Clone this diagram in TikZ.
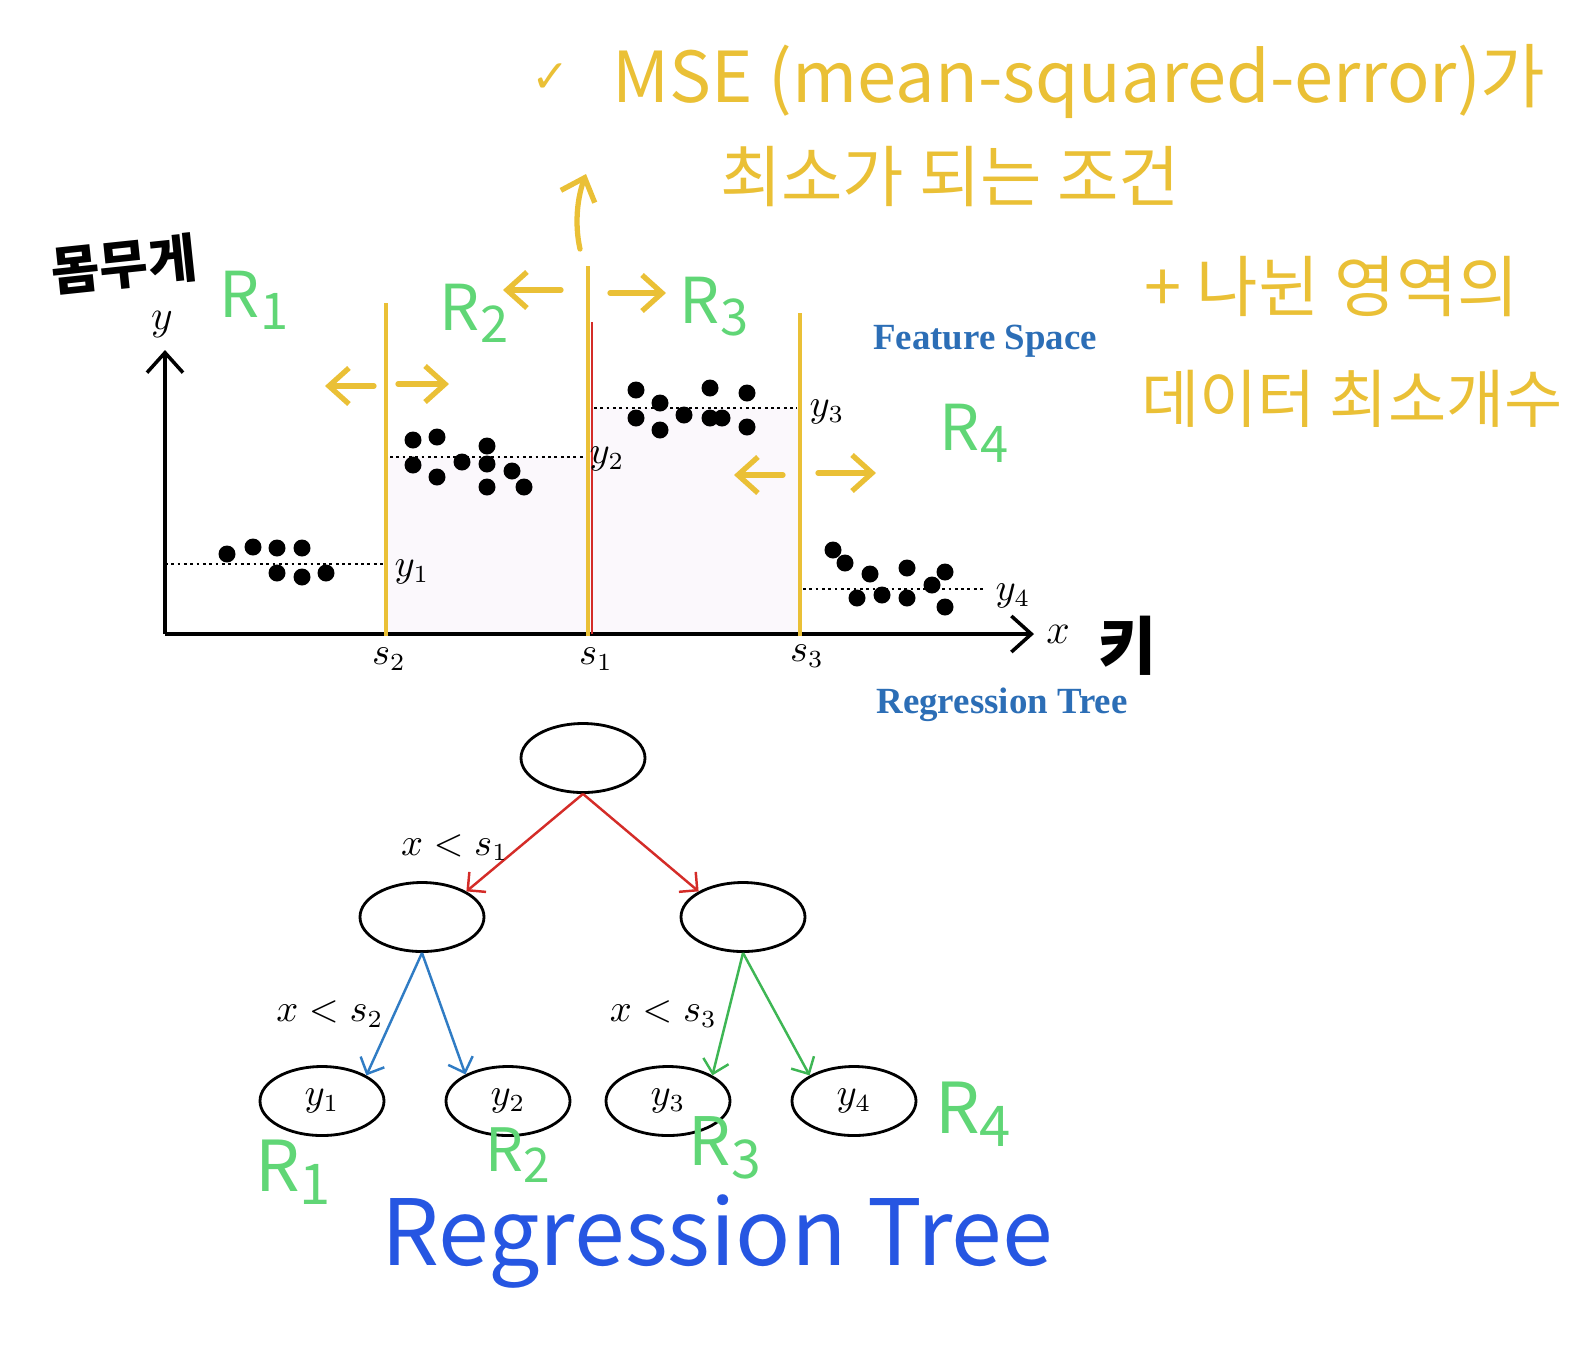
\documentclass[tikz,border=0pt]{standalone}
\usepackage{fontspec}
\setmainfont{Liberation Serif}
\newfontfamily\handfont{Noto Sans CJK KR}
\newfontfamily\symfont{DejaVu Sans}
\usetikzlibrary{arrows.meta,shapes.geometric}

\definecolor{penyellow}{RGB}{234,192,54}
\definecolor{pengreen}{RGB}{96,214,118}
\definecolor{penblue}{RGB}{38,86,226}
\definecolor{printblue}{RGB}{44,110,182}
\definecolor{cutred}{RGB}{212,44,40}
\definecolor{cutblue}{RGB}{48,124,196}
\definecolor{cutgreen}{RGB}{62,182,84}
\definecolor{regionfill}{RGB}{251,248,252}

\newcommand{\regionname}[1]{R\raisebox{-0.35ex}{\scalebox{0.8}{#1}}}

\begin{document}
\begin{tikzpicture}[x=0.1mm,y=-0.1mm]
\tikzstyle{split}=[ellipse,thick,draw=black,fill=white,minimum width=12.4mm,minimum height=6.9mm,inner sep=0pt]
\tikzstyle{branch}=[line width=0.7pt,-{Straight Barb[length=1.3mm,width=2.6mm]}]
\tikzstyle{cut}=[penyellow,line width=1.2pt]
\tikzstyle{mean}=[black,densely dotted,line width=0.8pt]
\tikzstyle{lbl}=[text=black,font=\fontsize{10.5}{12}\selectfont,inner sep=1pt]
\tikzstyle{pen}=[penyellow,line width=1.5pt,line cap=round,line join=round,-{Straight Barb[length=2mm,width=3.6mm]}]
\tikzstyle{hand}=[penyellow,font=\handfont\fontsize{19}{22}\selectfont,inner sep=0pt]
\tikzstyle{region}=[pengreen,font=\handfont\fontsize{18}{20}\selectfont,inner sep=0pt]

\useasboundingbox (0,0) rectangle (1594,1360);

% Feature space
\coordinate (O) at (165,634);
\coordinate (ytip) at (165,350);
\coordinate (xtip) at (1034,634);
\fill[regionfill] (386,457) rectangle (590,634);
\fill[regionfill] (590,408) rectangle (800,634);
\draw[line width=1pt,-{Straight Barb[length=2mm,width=3.6mm]}] (O) -- (ytip);
\draw[line width=1pt,-{Straight Barb[length=2mm,width=3.6mm]}] (O) -- (xtip);
\node[lbl,font=\fontsize{12}{14}\selectfont] (ylbl) at (162,325) {$y$};
\node[lbl,font=\fontsize{12}{14}\selectfont] (xlbl) at (1058,634) {$x$};

%mean lines
\draw[mean] (165,564) -- (383,564);
\draw[mean] (390,457) -- (585,457);
\draw[mean] (594,408) -- (797,408);
\draw[mean] (803,589) -- (983,589);

%data points
\foreach \p in {(227,554),(253,547),(277,548),(302,548),(277,573),(302,577),(326,573)} \fill \p circle (0.85mm);
\foreach \p in {(413,440),(437,437),(487,446),(413,465),(462,462),(487,464),(437,477),(487,487),(512,471),(524,487)} \fill \p circle (0.85mm);
\foreach \p in {(636,390),(710,388),(747,393),(636,418),(660,403),(660,430),(684,415),(710,418),(722,418),(747,427)} \fill \p circle (0.85mm);
\foreach \p in {(833,550),(845,563),(870,574),(907,568),(945,572),(932,585),(857,598),(882,595),(907,598),(945,607)} \fill \p circle (0.85mm);

%splits
\coordinate (s2) at (386,636);
\coordinate (s1) at (588,636);
\coordinate (s3) at (800,636);
\draw[cutred,line width=0.7pt] (592,322) -- (592,634);
\draw[cut] (s2) -- (386,303);
\draw[cut] (s1) -- (588,266);
\draw[cut] (s3) -- (800,313);
\node[lbl] (s2lbl) at (389,659) {$s_2$};
\node[lbl] (s1lbl) at (596,659) {$s_1$};
\node[lbl] (s3lbl) at (807,656) {$s_3$};
\node[lbl] (y1lbl) at (412,572) {$y_1$};
\node[lbl] (y2lbl) at (607,459) {$y_2$};
\node[lbl] (y3lbl) at (827,412) {$y_3$};
\node[lbl] (y4lbl) at (1013,596) {$y_4$};

\node[printblue,font=\bfseries\fontsize{10.5}{12}\selectfont] (fspace) at (985,341) {Feature Space};
\node[printblue,font=\bfseries\fontsize{10.5}{12}\selectfont] (rtree) at (1002,705) {Regression Tree};

% Tree
\node[split] (root) at (583,758) {};
\node[split] (nl) at (422,917) {};
\node[split] (nr) at (743,917) {};
\node[split,lbl,inner sep=0pt] (leaf1) at (322,1101) {$y_1$};
\node[split,lbl,inner sep=0pt] (leaf2) at (508,1101) {$y_2$};
\node[split,lbl,inner sep=0pt] (leaf3) at (668,1101) {$y_3$};
\node[split,lbl,inner sep=0pt] (leaf4) at (854,1101) {$y_4$};

\path[branch,cutred] (root.south) edge node[lbl,pos=0.55,left=0.6mm] {$x<s_1$} (nl.30);
\path[branch,cutred] (root.south) edge (nr.150);
\path[branch,cutblue] (nl.south) edge node[lbl,midway,left=0.6mm] {$x<s_2$} (leaf1.30);
\path[branch,cutblue] (nl.south) edge (leaf2.148);
\path[branch,cutgreen] (nr.south) edge node[lbl,midway,left=0.6mm] {$x<s_3$} (leaf3.30);
\path[branch,cutgreen] (nr.south) edge (leaf4.150);

%handwriting
\node[black,font=\handfont\bfseries\fontsize{15}{18}\selectfont,rotate=6,inner sep=0pt] (weight) at (124,264) {몸무게};
\node[black,font=\handfont\bfseries\fontsize{18}{20}\selectfont] (height) at (1128,646) {키};

\draw[pen] (374,386) -- (325,386);
\draw[pen] (398,384) -- (449,384);
\draw[pen] (561,290) -- (503,290);
\draw[pen] (610,293) -- (666,293);
\draw[pen] (783,475) -- (734,475);
\draw[pen] (818,473) -- (876,473);
\draw[pen] (580,249) .. controls (574,222) and (578,196) .. (586,174);

\node[penyellow,font=\symfont\fontsize{13}{15}\selectfont] (check) at (551,78) {✓};
\node[hand,font=\handfont\fontsize{20}{24}\selectfont,anchor=base west] (mse) at (612,102) {MSE (mean-squared-error)가};
\node[hand] (cond1) at (950,177) {최소가 되는 조건};
\node[hand] (cond2) at (1332,287) {+ 나뉜 영역의};
\node[hand,font=\handfont\fontsize{18}{20}\selectfont] (cond3) at (1352,399) {데이터 최소개수};

\node[region] (r1a) at (254,300) {\regionname{1}};
\node[region] (r2a) at (474,313) {\regionname{2}};
\node[region] (r3a) at (714,307) {\regionname{3}};
\node[region] (r4a) at (974,433) {\regionname{4}};
\node[region,font=\handfont\fontsize{20}{22}\selectfont] (r1b) at (293,1172) {\regionname{1}};
\node[region,font=\handfont\fontsize{17}{20}\selectfont] (r2b) at (518,1155) {\regionname{2}};
\node[region,font=\handfont\fontsize{19}{22}\selectfont] (r3b) at (725,1148) {\regionname{3}};
\node[region,font=\handfont\fontsize{20}{22}\selectfont] (r4b) at (973,1114) {\regionname{4}};

\node[penblue,font=\handfont\fontsize{26}{30}\selectfont,inner sep=0pt,anchor=base west] (title) at (381,1265) {Regression Tree};
\end{tikzpicture}
\end{document}
